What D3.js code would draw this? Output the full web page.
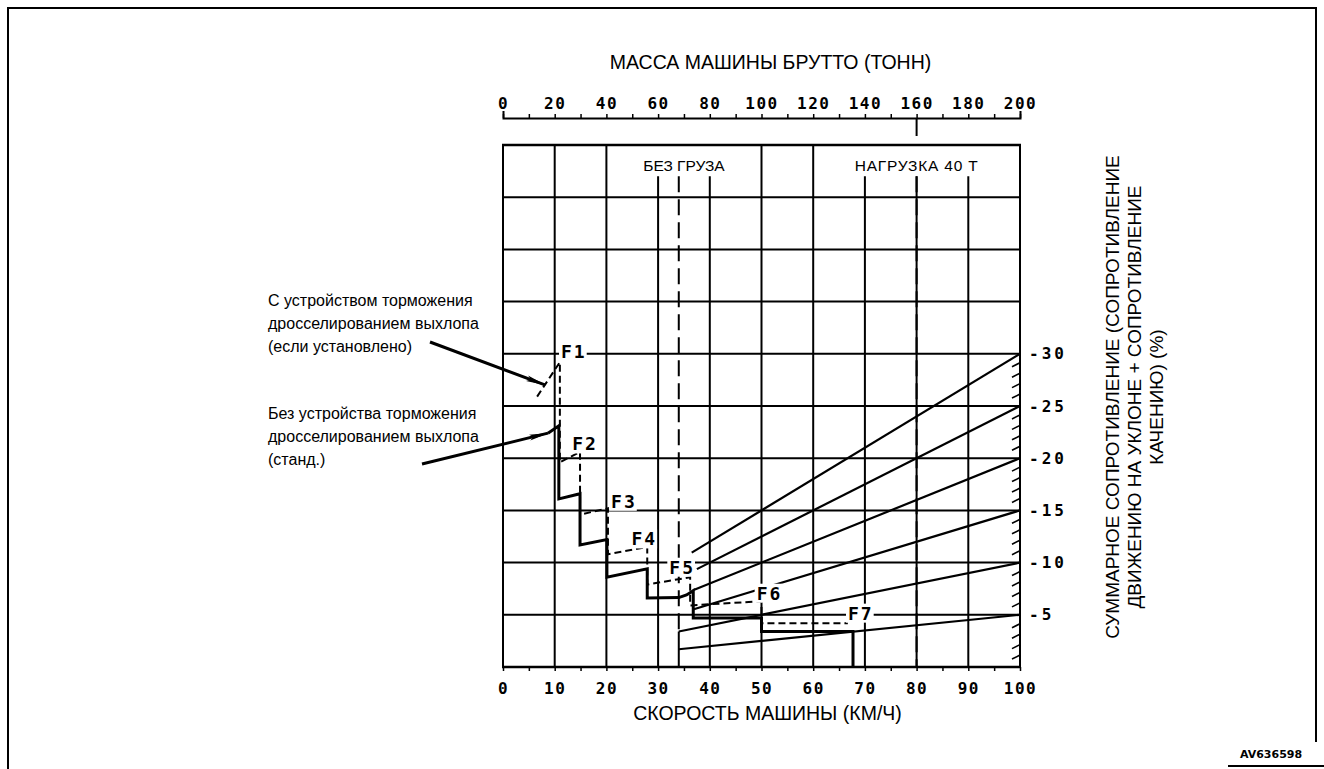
<!DOCTYPE html>
<html>
<head>
<meta charset="utf-8">
<script src="https://cdn.jsdelivr.net/npm/d3@7"></script>
<style>
  html, body { margin: 0; padding: 0; background: #fff; }
  svg { display: block; }
  .ttl { font-family: "Liberation Sans", Arial, sans-serif; font-size: 19.5px; fill: #000; }
  .rttl { font-family: "Liberation Sans", Arial, sans-serif; font-size: 19px; fill: #000; }
  .note { font-family: "Liberation Sans", Arial, sans-serif; font-size: 16px; fill: #000; }
  .head { font-family: "Liberation Sans", Arial, sans-serif; font-size: 15.5px; fill: #000; }
  .num { font-family: "DejaVu Sans Mono", monospace; font-weight: bold; font-size: 16px; letter-spacing: 1.5px; fill: #000; }
  .rnum { font-family: "DejaVu Sans Mono", monospace; font-weight: bold; font-size: 16px; letter-spacing: 3px; fill: #000; }
  .gear { font-family: "DejaVu Sans Mono", monospace; font-weight: bold; font-size: 18px; letter-spacing: 2px; fill: #000; }
</style>
</head>
<body>
<svg id="chart" width="1324" height="769"></svg>
<script>
// ---- data ----
const speedTicks = [0, 10, 20, 30, 40, 50, 60, 70, 80, 90, 100];          // km/h
const massTicks = [0, 20, 40, 60, 80, 100, 120, 140, 160, 180, 200];      // t
const resistanceTicks = [5, 10, 15, 20, 25, 30];                          // %
const grades = [5, 10, 15, 20, 25, 30];                                   // % at full gross mass
const gradeStartMass = [68, 68, 73.5, 73.5, 75, 73];                      // t, where each grade line begins
const emptyMass = 68;     // БЕЗ ГРУЗА
const loadedMass = 160;   // НАГРУЗКА 40 Т
const gears = ["F1", "F2", "F3", "F4", "F5", "F6", "F7"];

// Retarding curve, standard (no exhaust brake): [speed km/h, resistance %]
const standardCurve = [
  [[8.7, 22.4], [10.8, 23.1]],
  [[10.8, 16.1], [14.9, 16.6]],
  [[14.9, 11.7], [20.1, 12.2]],
  [[20.1, 8.6], [27.9, 9.4]],
  [[27.9, 6.6], [34.0, 6.65], [35.5, 6.9], [36.8, 7.3]],
  [[36.8, 4.7], [50.0, 4.7]],
  [[50.0, 3.4], [67.7, 3.4], [67.7, 0]]
];
// Retarding curve with exhaust brake (if fitted)
const exhaustBrakeCurve = [
  [[6.6, 25.9], [11.0, 29.2]],
  [[11.0, 19.6], [14.9, 20.6]],
  [[14.9, 14.6], [20.3, 15.2]],
  [[20.3, 10.8], [27.9, 11.5]],
  [[27.9, 7.9], [36.2, 8.6]],
  [[36.2, 5.9], [50.0, 6.3]],
  [[50.0, 4.2], [66.7, 4.2]]
];

// ---- layout ----
const svg = d3.select("#chart");
const X0 = 503, X1 = 1020, YB = 667, YT = 145;
const x = d3.scaleLinear().domain([0, 100]).range([X0, X1]);
const xm = d3.scaleLinear().domain([0, 200]).range([X0, X1]);
const y = d3.scaleLinear().domain([0, 50]).range([YB, YT]);
const headerStart = 47; // % level where the inner columns begin inside the header row

// page frame
const frame = svg.append("g").attr("stroke", "#000").attr("stroke-width", 2).attr("fill", "none");
frame.append("path").attr("d", "M8,769 L8,8 L1316,8 L1316,742");
frame.append("line").attr("x1", 1228).attr("x2", 1324).attr("y1", 766).attr("y2", 766);

// ---- grid ----
const grid = svg.append("g").attr("stroke", "#000").attr("stroke-width", 2);
const fullCols = [0, 10, 20, 50, 60, 100];
speedTicks.forEach(v => {
  grid.append("line")
    .attr("x1", x(v)).attr("x2", x(v))
    .attr("y1", fullCols.includes(v) ? y(50) : y(headerStart)).attr("y2", y(0));
});
d3.range(0, 51, 5).forEach(p => {
  grid.append("line").attr("x1", x(0) - 1).attr("x2", x(100) + 1).attr("y1", y(p)).attr("y2", y(p))
    .attr("stroke-width", (p === 0 || p === 50) ? 2.5 : 2);
});

// empty / loaded mass reference lines
const refs = svg.append("g").attr("stroke", "#000").attr("stroke-width", 2).attr("fill", "none");
[emptyMass, loadedMass].forEach(m => {
  refs.append("line").attr("x1", xm(m)).attr("x2", xm(m))
    .attr("y1", y(headerStart)).attr("y2", y(m === emptyMass ? 3.4 : 0))
    .attr("stroke-dasharray", "16,7");
});
refs.append("line").attr("x1", xm(emptyMass)).attr("x2", xm(emptyMass))
  .attr("y1", y(grades[1] * emptyMass / 200)).attr("y2", y(0));

// grade lines (grade resistance grows with gross mass)
const gradeG = svg.append("g").attr("stroke", "#000").attr("stroke-width", 2.2);
grades.forEach((g, i) => {
  const m0 = gradeStartMass[i];
  gradeG.append("line")
    .attr("x1", xm(m0)).attr("y1", y(g * m0 / 200))
    .attr("x2", xm(200)).attr("y2", y(g));
});

// hatch on the right edge, every 1 %
const hatch = svg.append("g").attr("stroke", "#000").attr("stroke-width", 1.6);
d3.range(1, 30).filter(p => p % 5 !== 0).forEach(p => {
  hatch.append("line").attr("x1", x(100) - 8).attr("y1", y(p) + 2.5)
    .attr("x2", x(100)).attr("y2", y(p) - 1.5);
});

// ---- retarder curves ----
const line = d3.line().x(d => x(d[0])).y(d => y(d[1]));
svg.append("path").datum(standardCurve.flat())
  .attr("d", line).attr("fill", "none").attr("stroke", "#000")
  .attr("stroke-width", 3).attr("stroke-linejoin", "miter");
svg.append("path").datum(exhaustBrakeCurve.flat())
  .attr("d", line).attr("fill", "none").attr("stroke", "#000")
  .attr("stroke-width", 2).attr("stroke-dasharray", "7,4");

// gear labels, offset from the end of each exhaust-brake segment
const gearOffsets = [[14, -11], [5, -8], [16, -7], [-3, -8], [-8, -10], [8, -8], [13, -10]];
const gearG = svg.append("g");
gears.forEach((name, i) => {
  const seg = exhaustBrakeCurve[i];
  const end = seg[seg.length - 1];
  const gx = x(end[0]) + gearOffsets[i][0], gy = y(end[1]) + gearOffsets[i][1];
  const bg = gearG.append("rect").attr("fill", "#fff");
  const t = gearG.append("text").attr("class", "gear").attr("x", gx).attr("y", gy)
    .attr("text-anchor", "middle").attr("dominant-baseline", "central").text(name);
  const b = t.node().getBBox();
  bg.attr("x", b.x - 2).attr("y", b.y + 1).attr("width", b.width + 2).attr("height", b.height - 2);
});

// ---- axes ----
function styleAxisText(g, cls) {
  g.attr("font-size", null).attr("font-family", null);
  g.selectAll(".tick text").attr("class", cls);
}
// bottom: vehicle speed
const bottomAxis = d3.axisBottom(x).tickValues(d3.range(0, 101, 5))
  .tickFormat(d => d % 10 === 0 ? d : "").tickSize(4).tickSizeOuter(0).tickPadding(12);
const gb = svg.append("g").attr("transform", `translate(0,${YB})`).call(bottomAxis);
gb.select(".domain").remove();
gb.selectAll(".tick line").attr("stroke", "#000").attr("stroke-width", 1.5);
styleAxisText(gb, "num");

// top: gross vehicle weight
const topY = 118;
const topAxis = d3.axisTop(xm).tickValues(d3.range(0, 201, 10))
  .tickFormat(d => d % 20 === 0 ? d : "").tickSize(4).tickSizeOuter(7).tickPadding(5);
const gt = svg.append("g").attr("transform", `translate(0,${topY})`).call(topAxis);
gt.select(".domain").attr("stroke", "#000").attr("stroke-width", 2);
gt.selectAll(".tick line").attr("stroke", "#000").attr("stroke-width", 1.5);
styleAxisText(gt, "num");
svg.append("line").attr("x1", xm(loadedMass)).attr("x2", xm(loadedMass))
  .attr("y1", topY).attr("y2", topY + 18).attr("stroke", "#000").attr("stroke-width", 2);

// right: total resistance
const rightAxis = d3.axisRight(y).tickValues(resistanceTicks)
  .tickFormat(d => "-" + d).tickSize(0).tickPadding(9);
const gr = svg.append("g").attr("transform", `translate(${X1},0)`).call(rightAxis);
gr.select(".domain").remove();
styleAxisText(gr, "rnum");

// ---- titles ----
svg.append("text").attr("class", "ttl").attr("x", (X0 + X1) / 2 + 9).attr("y", 69)
  .attr("text-anchor", "middle").text("МАССА МАШИНЫ БРУТТО (ТОНН)");
svg.append("text").attr("class", "ttl").attr("x", (X0 + X1) / 2 + 6).attr("y", 720)
  .attr("text-anchor", "middle").text("СКОРОСТЬ МАШИНЫ (КМ/Ч)");

svg.append("text").attr("class", "head").attr("x", (x(20) + x(50)) / 2).attr("y", 171)
  .attr("text-anchor", "middle").text("БЕЗ ГРУЗА");
svg.append("text").attr("class", "head").attr("x", (x(60) + x(100)) / 2).attr("y", 171)
  .attr("text-anchor", "middle").attr("letter-spacing", 0.8).text("НАГРУЗКА 40 Т");

const rt = svg.append("text").attr("class", "rttl")
  .attr("transform", "translate(1119,397) rotate(-90)").attr("text-anchor", "middle");
["СУММАРНОЕ СОПРОТИВЛЕНИЕ (СОПРОТИВЛЕНИЕ", "ДВИЖЕНИЮ НА УКЛОНЕ + СОПРОТИВЛЕНИЕ", "КАЧЕНИЮ) (%)"]
  .forEach((s, i) => rt.append("tspan").attr("x", 0).attr("dy", i === 0 ? 0 : 22).text(s));

// ---- annotations ----
const notes = [
  { lines: ["С устройством торможения", "дросселированием выхлопа", "(если установлено)"], top: 306,
    tail: [430, 342], tip: [8.1, exhaustBrakeCurve[0][0][1] + (8.1 - 6.6) / (11.0 - 6.6) * (29.2 - 25.9)] },
  { lines: ["Без устройства торможения", "дросселированием выхлопа", "(станд.)"], top: 419,
    tail: [422, 464], tip: standardCurve[0][0] }
];
svg.append("defs").append("marker").attr("id", "head")
  .attr("viewBox", "0 0 20 8").attr("refX", 19).attr("refY", 4)
  .attr("markerWidth", 20).attr("markerHeight", 8).attr("markerUnits", "userSpaceOnUse")
  .attr("orient", "auto")
  .append("path").attr("d", "M0,1 L20,4 L0,7 L4,4 Z").attr("fill", "#000");
notes.forEach(n => {
  const t = svg.append("text").attr("class", "note");
  n.lines.forEach((s, i) => t.append("tspan").attr("x", 268).attr("y", n.top + i * 23).text(s));
  svg.append("line").attr("x1", n.tail[0]).attr("y1", n.tail[1])
    .attr("x2", x(n.tip[0])).attr("y2", y(n.tip[1]))
    .attr("stroke", "#000").attr("stroke-width", 3).attr("marker-end", "url(#head)");
});

// drawing number
svg.append("text").attr("x", 1271).attr("y", 758).attr("text-anchor", "middle")
  .attr("font-family", "DejaVu Sans, sans-serif").attr("font-weight", "bold")
  .attr("font-size", 11).attr("fill", "#000").text("AV636598");
</script>
</body>
</html>
